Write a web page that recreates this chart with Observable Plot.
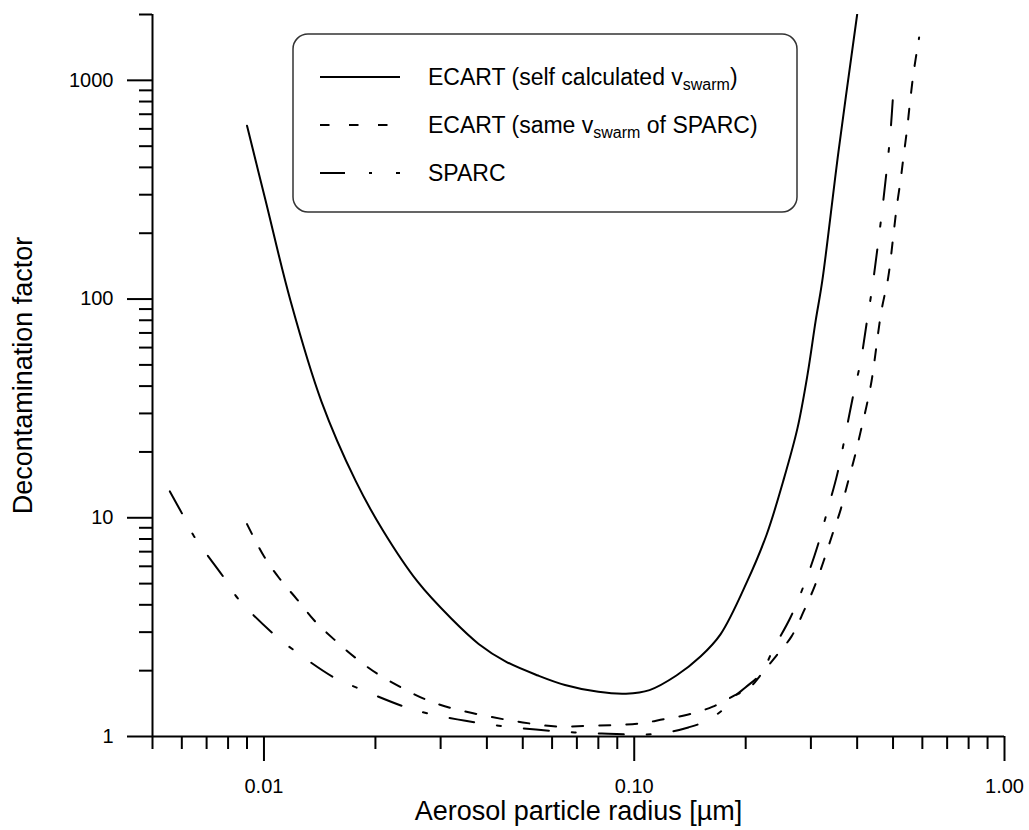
<!DOCTYPE html>
<html><head><meta charset="utf-8">
<script src="https://cdn.jsdelivr.net/npm/d3@7"></script>
<script src="https://cdn.jsdelivr.net/npm/@observablehq/plot@0.6"></script>
<style>
body{margin:0;background:#fff}
#chart{width:1029px;height:830px}
#chart svg [aria-label$="tick"]{stroke-width:2px}
</style>
</head><body><div id="chart"></div>
<script>
// ---- data ----
const seriesNames = ["ECART (self calculated v_swarm)", "ECART (same v_swarm of SPARC)", "SPARC"];

const ecartSelfX = [0.009, 0.0101, 0.0118, 0.0143, 0.0177, 0.021, 0.026, 0.032, 0.038, 0.045, 0.055, 0.065, 0.08, 0.095, 0.11, 0.13, 0.151, 0.171, 0.202, 0.228, 0.2525, 0.276, 0.294, 0.309, 0.322, 0.356, 0.40];
const ecartSelfY = [620, 282, 98, 34, 14.7, 8.7, 5.1, 3.47, 2.65, 2.2, 1.9, 1.72, 1.6, 1.57, 1.63, 1.9, 2.32, 2.93, 5.13, 8.41, 14.7, 25.7, 45.5, 79.5, 121, 470, 2000];

const ecartSameX = [0.009, 0.01, 0.011, 0.01228, 0.01366, 0.01546, 0.0176, 0.0202, 0.02326, 0.027, 0.0316, 0.04, 0.05, 0.062, 0.075, 0.09, 0.105, 0.12, 0.14, 0.163, 0.184, 0.206, 0.22, 0.241, 0.266, 0.287, 0.307, 0.3246, 0.343, 0.361, 0.377, 0.393, 0.409, 0.424, 0.4375, 0.465, 0.485, 0.501, 0.511, 0.524, 0.533, 0.547, 0.554, 0.568, 0.588];
const ecartSameY = [9.35, 6.67, 5.29, 4.24, 3.40, 2.78, 2.30, 1.94, 1.69, 1.49, 1.358, 1.24, 1.16, 1.11, 1.12, 1.13, 1.15, 1.2, 1.26, 1.37, 1.52, 1.69, 1.92, 2.32, 2.87, 3.74, 4.86, 6.33, 8.41, 10.9, 14.4, 18.7, 24.9, 32.4, 42.2, 88, 125, 195, 260, 350, 440, 620, 760, 1080, 1570];

const sparcX = [0.00557, 0.006, 0.00647, 0.00775, 0.0085, 0.01057, 0.01197, 0.01546, 0.018, 0.0239, 0.0279, 0.035, 0.045, 0.06, 0.072, 0.085, 0.1, 0.112, 0.125, 0.14, 0.155, 0.175, 0.184, 0.2, 0.22, 0.238, 0.2644, 0.29, 0.3126, 0.333, 0.354, 0.372, 0.389, 0.409, 0.424, 0.44, 0.468, 0.483, 0.4925, 0.501];
const sparcY = [13.2, 10.5, 8.24, 5.4, 4.28, 2.96, 2.5, 1.86, 1.66, 1.37, 1.27, 1.18, 1.11, 1.06, 1.04, 1.03, 1.02, 1.025, 1.05, 1.1, 1.17, 1.34, 1.49, 1.68, 1.94, 2.53, 3.51, 5.13, 7.41, 10.9, 16.0, 24.1, 35.3, 52.1, 76.9, 115, 260, 420, 590, 898];

const xMajorTicks = [0.01, 0.1, 1];
const xMinorTicks = [0.005, 0.006, 0.007, 0.008, 0.009, 0.02, 0.03, 0.04, 0.05, 0.06, 0.07, 0.08, 0.09, 0.2, 0.3, 0.4, 0.5, 0.6, 0.7, 0.8, 0.9];
const yMajorTicks = [1, 10, 100, 1000];
const yMinorTicks = [2, 3, 4, 5, 6, 7, 8, 9, 20, 30, 40, 50, 60, 70, 80, 90, 200, 300, 400, 500, 600, 700, 800, 900, 2000];

const xTitle = "Aerosol particle radius [µm]";
const yTitle = "Decontamination factor";

// ---- tables ----
const toRows = (xs, ys) => xs.map((x, i) => ({x, y: ys[i]}));
const solidRows = toRows(ecartSelfX, ecartSelfY);
const dashRows = toRows(ecartSameX, ecartSameY);
const sparcRows = toRows(sparcX, sparcY);

const FONT = "'Liberation Sans', Arial, Helvetica, sans-serif";

const chart = Plot.plot({
  width: 1029,
  height: 830,
  marginLeft: 152,
  marginRight: 25,
  marginTop: 14,
  marginBottom: 94,
  x: {type: "log", domain: [0.005, 1]},
  y: {type: "log", domain: [1, 2000]},
  style: {fontFamily: FONT, fontSize: "20px", color: "black", background: "white"},
  marks: [
    Plot.axisX(xMinorTicks, {tickSize: 13, tickFormat: () => "", label: null, strokeWidth: 2}),
    Plot.axisX(xMajorTicks, {tickSize: 25, tickPadding: 17, tickFormat: d3.format(".2f"), label: null, strokeWidth: 2, fontSize: 20}),
    Plot.axisY(yMinorTicks, {tickSize: 13, tickFormat: () => "", label: null, strokeWidth: 2}),
    Plot.axisY(yMajorTicks, {tickSize: 25, tickPadding: 14, tickFormat: d3.format("d"), label: null, strokeWidth: 2, fontSize: 20}),
    Plot.ruleY([1], {stroke: "black", strokeWidth: 2}),
    Plot.ruleX([0.005], {stroke: "black", strokeWidth: 2}),
    Plot.line(solidRows, {x: "x", y: "y", stroke: "black", strokeWidth: 2, curve: "catmull-rom", clip: true}),
    Plot.line(dashRows, {x: "x", y: "y", stroke: "black", strokeWidth: 2, strokeDasharray: "11,16", curve: "catmull-rom", clip: true}),
    Plot.line(sparcRows, {x: "x", y: "y", stroke: "black", strokeWidth: 2, strokeDasharray: "25,23,4,23", curve: "catmull-rom", clip: true}),
    Plot.text([xTitle], {frameAnchor: "bottom", dy: 75, fontSize: 27, fill: "black", lineAnchor: "middle", textAnchor: "middle"}),
    Plot.text([yTitle], {frameAnchor: "left", dx: -129, rotate: -90, fontSize: 27, fill: "black", lineAnchor: "middle", textAnchor: "middle"})
  ]
});

document.getElementById("chart").appendChild(chart);

// ---- legend box drawn inside the plot's svg ----
const svg = d3.select(chart);
const lg = svg.append("g").style("font-family", FONT).attr("fill", "black");
lg.append("rect").attr("x", 293).attr("y", 34).attr("width", 504).attr("height", 178)
  .attr("rx", 15).attr("ry", 15).attr("fill", "white").attr("stroke", "#333").attr("stroke-width", 1.5);
const legendItems = [
  {dash: null, parts: ["ECART (self calculated v", "swarm", ")"]},
  {dash: "9.5,19.5", parts: ["ECART (same v", "swarm", " of SPARC)"]},
  {dash: "25,24,3,24", parts: ["SPARC"]}
];
legendItems.forEach((it, i) => {
  const cy = 77 + i * 48;
  const ln = lg.append("line").attr("x1", 320).attr("x2", 400).attr("y1", cy).attr("y2", cy)
    .attr("stroke", "black").attr("stroke-width", 2);
  if (it.dash) ln.attr("stroke-dasharray", it.dash);
  const t = lg.append("text").attr("x", 428).attr("y", cy + 8)
    .style("font-size", "23px").style("text-anchor", "start").attr("text-anchor", "start");
  t.append("tspan").text(it.parts[0]);
  if (it.parts.length > 1) {
    t.append("tspan").style("font-size", "16px").attr("dy", 5).text(it.parts[1]);
    t.append("tspan").style("font-size", "23px").attr("dy", -5).text(it.parts[2]);
  }
});
</script>
</body></html>
